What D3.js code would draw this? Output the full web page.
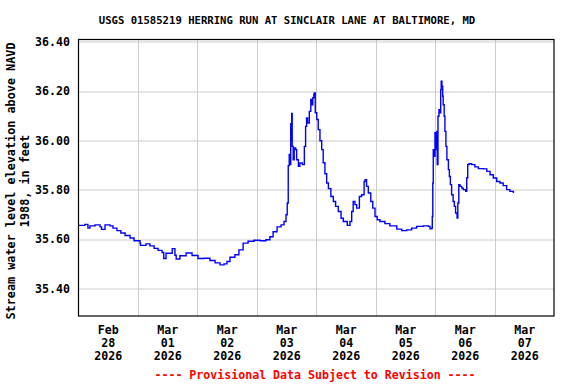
<!DOCTYPE html>
<html>
<head>
<meta charset="utf-8">
<script src="https://cdn.jsdelivr.net/npm/d3@7"></script>
<style>
  body { margin: 0; background: #fff; }
  text { font-family: "DejaVu Sans Mono", monospace; font-weight: bold; }
</style>
</head>
<body>
<script>
const title = "USGS 01585219 HERRING RUN AT SINCLAIR LANE AT BALTIMORE, MD"
const yTitle = ["Stream water level elevation above NAVD", "1988, in feet"]
const footer = "---- Provisional Data Subject to Revision ----"

// hours after 2026-02-28 00:00
const hours = [
  0, 2.8, 4.0, 4.8, 6.9, 8.9, 9.5, 10.9, 12.9, 14.1, 15.7, 17.3, 19.0, 21.0, 22.6,
  25.0, 25.2, 27.4, 29.0, 30.7, 32.3, 33.9, 34.6, 35.5, 37.1, 38.0, 39.1, 39.6, 41.1,
  43.6, 46.0, 48.4, 50.8, 53.2, 55.3, 57.3, 58.9, 60.1, 61.3, 63.3, 64.9, 66.6, 68.6,
  71.0, 73.4, 75.8, 77.4, 78.7, 80.3, 81.9, 83.1, 83.9, 84.4, 84.8, 85.2, 85.5, 85.8,
  86.0, 86.2, 86.4, 86.8, 87.2, 87.8, 88.2, 88.9, 89.5, 90.5, 91.3, 91.8, 92.2, 92.6,
  93.3, 93.9, 94.3, 94.7, 95.1, 95.3, 95.7, 96.3, 96.9, 97.6, 98.3, 98.9, 99.6, 100.3,
  101.0, 102.0, 103.0, 103.9, 105.0, 106.1, 107.0, 108.6, 109.7, 110.4, 111.0, 111.7,
  112.4, 113.5, 114.4, 115.4, 115.8, 116.4, 117.1, 118.1, 118.9, 119.8, 120.7, 121.8,
  123.8, 125.8, 128.6, 130.6, 132.6, 134.6, 136.6, 139.3, 141.3, 142.0, 142.7, 142.9,
  143.1, 143.3, 143.6, 144.0, 144.4, 144.7, 144.9, 145.2, 145.6, 146.0, 146.3, 146.5,
  146.8, 147.1, 147.3, 147.7, 148.0, 148.4, 148.8, 149.4, 149.8, 150.2, 150.7, 151.3,
  151.8, 152.3, 152.9, 153.2, 153.6, 154.1, 154.8, 155.4, 156.4, 156.8, 157.2, 157.7,
  158.8, 160.1, 161.5, 163.5, 164.9, 166.2, 167.5, 168.9, 170.2, 171.5, 172.9, 174.2, 175.6
]
const stage = [
  35.656, 35.660, 35.645, 35.654, 35.658, 35.650, 35.640, 35.658, 35.654, 35.645, 35.635, 35.625, 35.615, 35.605, 35.594,
  35.584, 35.575, 35.581, 35.573, 35.563, 35.555, 35.546, 35.522, 35.543, 35.543, 35.562, 35.535, 35.520, 35.533,
  35.544, 35.534, 35.522, 35.523, 35.514, 35.504, 35.496, 35.500, 35.510, 35.527, 35.537, 35.557, 35.584, 35.592,
  35.596, 35.594, 35.598, 35.610, 35.630, 35.650, 35.658, 35.672, 35.699, 35.747, 35.898, 35.943, 35.902, 36.068,
  36.003, 36.109, 35.976, 35.922, 35.970, 35.963, 35.922, 35.895, 35.909, 35.902, 35.976, 36.057, 36.091, 36.071,
  36.118, 36.166, 36.145, 36.173, 36.186, 36.193, 36.112, 36.085, 36.044, 35.999, 35.963, 35.910, 35.865, 35.828,
  35.805, 35.773, 35.753, 35.733, 35.712, 35.685, 35.672, 35.656, 35.672, 35.712, 35.753, 35.740,
  35.726, 35.773, 35.780, 35.834, 35.841, 35.814, 35.787, 35.753, 35.726, 35.692, 35.679, 35.672,
  35.663, 35.654, 35.641, 35.635, 35.638, 35.645, 35.652, 35.654, 35.652, 35.642, 35.645, 35.692,
  35.828, 35.963, 35.936, 36.031, 35.963, 36.037, 35.902, 36.098, 36.125, 36.112, 36.206, 36.240,
  36.220, 36.179, 36.145, 36.098, 36.037, 35.976, 35.922, 35.882, 35.854, 35.821, 35.780, 35.753,
  35.733, 35.706, 35.686, 35.747, 35.821, 35.814, 35.807, 35.801, 35.794, 35.849, 35.902, 35.906,
  35.902, 35.893, 35.886, 35.885, 35.875, 35.861, 35.848, 35.834, 35.828, 35.817, 35.801, 35.794, 35.787
]

const yTicks = [35.40, 35.60, 35.80, 36.00, 36.20, 36.40]
const dayLabels = [
  ["Feb", "28", "2026"], ["Mar", "01", "2026"], ["Mar", "02", "2026"], ["Mar", "03", "2026"],
  ["Mar", "04", "2026"], ["Mar", "05", "2026"], ["Mar", "06", "2026"], ["Mar", "07", "2026"]
]

const W = 576, H = 384
const m = { left: 78, top: 39.5, right: 22, bottom: 68 }
const w = W - m.left - m.right
const h = H - m.top - m.bottom

const start = new Date(2026, 1, 28)
const end = new Date(2026, 2, 8)
const data = hours.map((hr, i) => ({ t: new Date(start.getTime() + hr * 3600e3), v: stage[i] }))

const x = d3.scaleTime().domain([start, end]).range([0, w])
const y = d3.scaleLinear().domain([35.289, 36.409]).range([h, 0])

const svg = d3.select("body").append("svg")
  .attr("width", W)
  .attr("height", H)

svg.append("text")
  .attr("x", 287)
  .attr("y", 24)
  .attr("text-anchor", "middle")
  .attr("font-size", "10.6px")
  .text(title)

const g = svg.append("g").attr("transform", `translate(${m.left},${m.top})`)

// grid
const midnights = d3.timeDay.range(d3.timeDay.offset(start, 1), end)
g.append("g")
  .selectAll("line")
  .data(midnights)
  .join("line")
  .attr("x1", d => Math.round(x(d)) + 0.5)
  .attr("x2", d => Math.round(x(d)) + 0.5)
  .attr("y1", 0)
  .attr("y2", h)
  .attr("stroke", "#cccccc")

g.append("g")
  .selectAll("line")
  .data(yTicks)
  .join("line")
  .attr("x1", 0)
  .attr("x2", w)
  .attr("y1", d => Math.round(y(d)) + 0.5)
  .attr("y2", d => Math.round(y(d)) + 0.5)
  .attr("stroke", "#cccccc")

// y axis labels
const yAxis = g.append("g")
  .call(d3.axisLeft(y).tickValues(yTicks).tickFormat(d3.format(".2f")).tickSize(0).tickPadding(8))
yAxis.select(".domain").remove()
yAxis.selectAll("text")
  .attr("font-size", "11.6px")
  .attr("font-family", "DejaVu Sans Mono")
  .attr("fill", "#000")

// x axis labels, centred at noon of each day
const noons = dayLabels.map((d, i) => d3.timeHour.offset(d3.timeDay.offset(start, i), 12))
const xAxis = g.append("g")
  .attr("transform", `translate(0,${h})`)
  .call(d3.axisBottom(x).tickValues(noons).tickFormat("").tickSize(0))
xAxis.select(".domain").remove()
xAxis.selectAll(".tick text").remove()
xAxis.selectAll(".tick").each(function (d, i) {
  const t = d3.select(this).append("text")
    .attr("text-anchor", "middle")
    .attr("font-size", "11.6px")
    .attr("fill", "#000")
  dayLabels[i].forEach((s, k) => {
    t.append("tspan").attr("x", 0).attr("y", 18 + k * 13).text(s)
  })
})

// data line
const line = d3.line()
  .x(d => x(d.t))
  .y(d => y(d.v))
  .curve(d3.curveStepAfter)

g.append("path")
  .datum(data)
  .attr("fill", "none")
  .attr("stroke", "#0000ff")
  .attr("stroke-width", 1.4)
  .attr("d", line)

// frame
g.append("rect")
  .attr("x", 0.5)
  .attr("y", 0)
  .attr("width", w - 0.5)
  .attr("height", h)
  .attr("fill", "none")
  .attr("stroke", "#000")
  .attr("stroke-width", 1.2)

// y title
const yt = svg.append("text")
  .attr("transform", "translate(0,181) rotate(-90)")
  .attr("text-anchor", "middle")
  .attr("font-size", "11.8px")
yTitle.forEach((s, k) => {
  yt.append("tspan").attr("x", 0).attr("y", 15 + k * 14).text(s)
})

svg.append("text")
  .attr("x", 315)
  .attr("y", 379)
  .attr("text-anchor", "middle")
  .attr("font-size", "11.6px")
  .attr("fill", "#ff0000")
  .text(footer)
</script>
</body>
</html>
